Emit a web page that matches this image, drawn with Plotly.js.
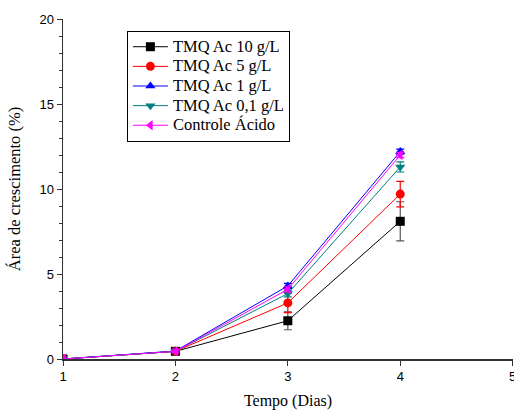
<!DOCTYPE html>
<html>
<head>
<meta charset="utf-8">
<script src="https://cdn.plot.ly/plotly-3.0.1.min.js"></script>
<style>html,body{margin:0;padding:0;background:#fff;}#chart{width:514px;height:410px;}</style>
</head>
<body>
<div id="chart"></div>
<script>
var days = [1, 2, 3, 4];
var seriesNames = ["TMQ Ac 10 g/L", "TMQ Ac 5 g/L", "TMQ Ac 1 g/L", "TMQ Ac 0,1 g/L", "Controle Ácido"];
var tmq10 = [0, 0.45, 2.25, 8.1];
var tmq10Err = [0, 0.05, 0.53, 1.15];
var tmq5 = [0, 0.45, 3.3, 9.7];
var tmq5Err = [0, 0.05, 0.57, 0.75];
var tmq1 = [0, 0.47, 4.3, 12.2];
var tmq1Err = [0, 0.05, 0.15, 0.15];
var tmq01 = [0, 0.45, 3.85, 11.3];
var tmq01Err = [0, 0.05, 0.2, 0.3];
var controle = [0, 0.45, 4.1, 12.0];
var controleErr = [0, 0.05, 0.15, 0.15];
var xTicks = [1, 2, 3, 4, 5];
var yTicks = [0, 5, 10, 15, 20];

var colors = ["#000000", "#ff0000", "#0000ff", "#008080", "#ff00ff"];
var symbols = ["square", "circle", "triangle-up", "triangle-down", "triangle-left"];
var vals = [tmq10, tmq5, tmq1, tmq01, controle];
var errs = [tmq10Err, tmq5Err, tmq1Err, tmq01Err, controleErr];
var errColors = ["#555555", "#ff0000", "#0000ff", "#008080", "#ff00ff"];

var traces = vals.map(function (v, i) {
  return {
    x: days, y: v, type: "scatter", mode: "lines+markers",
    name: '<span style="font-size:16.5px">' + seriesNames[i] + '</span>',
    line: {color: colors[i], width: 1},
    marker: {symbol: symbols[i], size: 9, color: colors[i]},
    error_y: {type: "data", array: errs[i], visible: true, color: errColors[i], thickness: 1.2, width: 4}
  };
});

var layout = {
  width: 514, height: 410,
  margin: {l: 63, r: 1, t: 19, b: 51},
  paper_bgcolor: "#fff", plot_bgcolor: "#fff",
  showlegend: true,
  legend: {
    x: 0.142, y: 0.965, xanchor: "left", yanchor: "top",
    bgcolor: "#fff", bordercolor: "#000", borderwidth: 1,
    font: {family: "Liberation Serif, Times New Roman, serif", size: 12.8, color: "#000"},
    tracegroupgap: 0, itemwidth: 35
  },
  xaxis: {
    range: [1, 5.003], tickvals: xTicks, ticktext: xTicks.map(String),
    showgrid: false, zeroline: false, showline: true, linecolor: "#333", linewidth: 1.5,
    ticks: "outside", ticklen: 5, tickcolor: "#333", ticklabeloverflow: "allow",
    tickfont: {family: "Liberation Sans, Arial, sans-serif", size: 13, color: "#000"},
    title: {text: "Tempo (Dias)", font: {family: "Liberation Serif, Times New Roman, serif", size: 16, color: "#000"}, standoff: 15},
    automargin: false
  },
  yaxis: {
    range: [0, 20], tickvals: yTicks, ticktext: yTicks.map(String),
    showgrid: false, zeroline: false, showline: true, linecolor: "#333", linewidth: 1.5,
    ticks: "outside", ticklen: 5, tickcolor: "#333",
    minor: {dtick: 1, ticks: "outside", ticklen: 3, tickcolor: "#333", showgrid: false},
    tickfont: {family: "Liberation Sans, Arial, sans-serif", size: 13, color: "#000"},
    title: {text: "Área de crescimento (%)", font: {family: "Liberation Serif, Times New Roman, serif", size: 16.5, color: "#000"}, standoff: 14},
    automargin: false
  }
};

Plotly.newPlot("chart", traces, layout, {displayModeBar: false, staticPlot: true});
</script>
</body>
</html>
